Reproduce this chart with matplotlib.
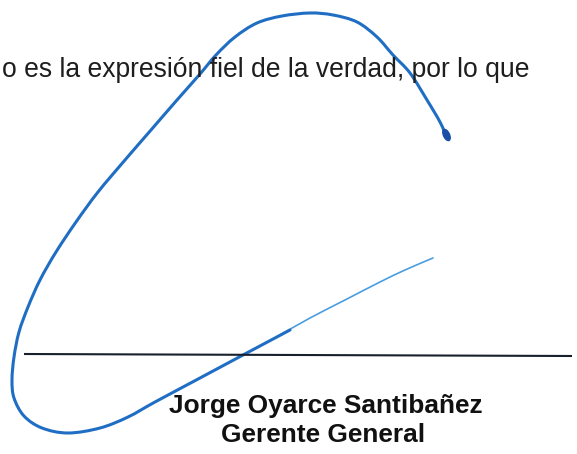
import matplotlib
matplotlib.use("Agg")
import matplotlib.pyplot as plt
from matplotlib.path import Path
from matplotlib.patches import PathPatch, Ellipse
import numpy as np

# page content, pixel coordinates of the scan (x right, y down)
body_text = "o es la expresión fiel de la verdad, por lo que"
signer_name = "Jorge Oyarce Santibañez"
signer_role = "Gerente General"

# signature line
rule_x = [24, 572]
rule_y = [354, 356]

# signature stroke, thick part (from the crossing with the rule round the loop to the blob)
sig_x = [290, 243, 200, 155, 128, 100, 68, 42, 24, 14, 12, 14, 19, 28, 40, 56, 76,
         98, 125, 151, 177, 200, 216, 235, 257, 282, 310, 333, 357, 377, 393,
         410, 427, 440, 447]
sig_y = [330, 355, 378, 402, 417, 428, 433, 428, 416, 398, 380, 357, 332, 307, 280, 252, 222,
         192, 160, 130, 100, 74, 55, 37, 23, 16, 13, 15, 22, 37, 55,
         73, 100, 122, 138]

# thin fading tail of the stroke
tail_x = [433, 405, 380, 345, 310, 280]
tail_y = [258, 270, 282, 300, 318, 335]

ink_blue = "#1f6ec4"


def smooth_path(xs, ys):
    pts = np.column_stack([xs, ys]).astype(float)
    pts = np.vstack([pts[0], pts, pts[-1]])
    verts = [pts[1]]
    codes = [Path.MOVETO]
    for i in range(1, len(pts) - 2):
        p0, p1, p2, p3 = pts[i - 1], pts[i], pts[i + 1], pts[i + 2]
        verts += [p1 + (p2 - p0) / 6, p2 - (p3 - p1) / 6, p2]
        codes += [Path.CURVE4] * 3
    return Path(verts, codes)


fig = plt.figure(figsize=(5.77, 4.54), dpi=100)
ax = fig.add_axes([0, 0, 1, 1])
ax.set_xlim(0, 577)
ax.set_ylim(454, 0)
ax.axis("off")

ax.text(2, 77, body_text, fontsize=19.1, family="Liberation Sans",
        color="#1e1e1e", ha="left", va="baseline")

ax.plot(rule_x, rule_y, color="#17202c", lw=1.5, solid_capstyle="butt")

ax.text(325.5, 413, signer_name, fontsize=18.9, family="Liberation Sans",
        weight="bold", color="#111111", ha="center", va="baseline")
ax.text(323.5, 442, signer_role, fontsize=18.9, family="Liberation Sans",
        weight="bold", color="#111111", ha="center", va="baseline")

ax.add_patch(PathPatch(smooth_path(tail_x, tail_y), fill=False,
                       edgecolor="#4a9ee0", lw=1.2, capstyle="round"))
ax.add_patch(PathPatch(smooth_path(sig_x, sig_y), fill=False,
                       edgecolor=ink_blue, lw=2.2, capstyle="round",
                       joinstyle="round"))
ax.add_patch(Ellipse((446.5, 135), 6, 12, angle=-25, color="#1b4fa6"))

fig.savefig("out.png", dpi=100, facecolor="white")
